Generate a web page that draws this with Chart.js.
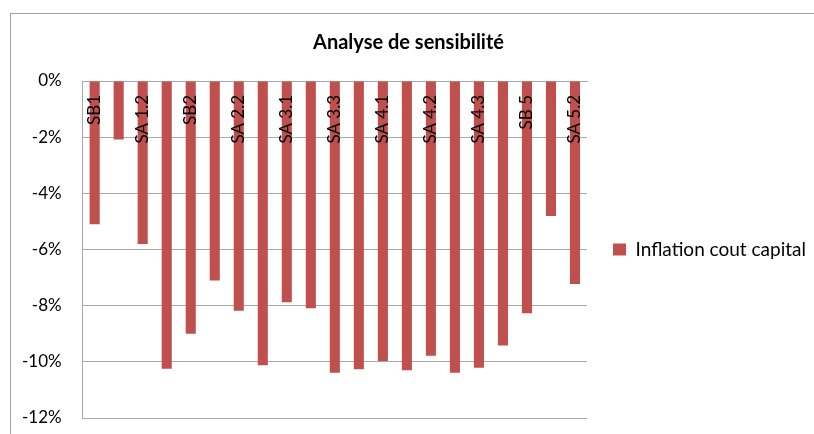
<!DOCTYPE html>
<html>
<head>
<meta charset="utf-8">
<script src="https://cdn.jsdelivr.net/npm/chart.js@4/dist/chart.umd.min.js"></script>
<style>
  html, body { margin: 0; padding: 0; background: #ffffff; }
  #wrap { width: 814px; height: 434px; }
</style>
</head>
<body>
<div id="wrap"><canvas id="c" width="814" height="434"></canvas></div>
<script>
// Scenario names (every other one is shown on the axis)
const categories = [
  'SB1', 'SA 1.1', 'SA 1.2', 'SA 1.3', 'SB2', 'SA 2.1', 'SA 2.2', 'SB3',
  'SA 3.1', 'SA 3.2', 'SA 3.3', 'SB4', 'SA 4.1', 'SA 4.1b', 'SA 4.2',
  'SA 4.2b', 'SA 4.3', 'SA 4.4', 'SB 5', 'SA 5.1', 'SA 5.2'
];

// Change (in %) for the capital cost inflation scenario
const inflationCoutCapital = [
  -5.1, -2.08, -5.8, -10.25, -9.0, -7.1, -8.18, -10.12,
  -7.88, -8.09, -10.39, -10.26, -9.97, -10.3, -9.78,
  -10.39, -10.21, -9.42, -8.27, -4.81, -7.23
];

const yTicks = [0, -2, -4, -6, -8, -10, -12];

const FONT = 'Lato, "Open Sans", "DejaVu Sans", sans-serif';
const GRID = '#a8a8a8';

// White background and thin grey frame around the chart
const framePlugin = {
  id: 'frame',
  beforeDraw(chart) {
    const ctx = chart.ctx;
    ctx.save();
    ctx.fillStyle = '#ffffff';
    ctx.fillRect(0, 0, chart.width, chart.height);
    ctx.strokeStyle = '#a0a0a0';
    ctx.lineWidth = 1;
    ctx.strokeRect(10.5, 13.5, chart.width + 20, chart.height + 20);
    ctx.restore();
  }
};

new Chart(document.getElementById('c'), {
  type: 'bar',
  data: {
    labels: categories,
    datasets: [{
      label: 'Inflation cout capital',
      data: inflationCoutCapital,
      backgroundColor: '#C0504D',
      borderWidth: 0,
      barPercentage: 0.42,
      categoryPercentage: 1.0
    }]
  },
  options: {
    responsive: false,
    animation: false,
    layout: { padding: { left: 1, right: -2, top: 13, bottom: 16 } },
    plugins: {
      title: {
        display: true,
        text: 'Analyse de sensibilité',
        color: '#000000',
        font: { family: FONT, size: 20, weight: 'bold' },
        padding: { top: 18, bottom: 26 }
      },
      legend: {
        position: 'right',
        fullSize: false,
        maxWidth: 260,
        labels: {
          color: '#000000',
          font: { family: FONT, size: 19 },
          boxWidth: 13,
          boxHeight: 12,
          padding: 26
        }
      },
      tooltip: { enabled: false }
    },
    scales: {
      x: {
        // category labels hang just below the zero line, over the bars
        position: { y: 0 },
        grid: { display: false, drawTicks: false },
        border: { display: true, color: GRID },
        afterFit: (scale) => {
          scale.paddingLeft = 0;
          scale.paddingRight = 0;
        },
        ticks: {
          z: 1,
          autoSkip: false,
          maxRotation: 90,
          minRotation: 90,
          padding: 14,
          color: '#000000',
          font: { family: FONT, size: 17 },
          callback: function (value, index) {
            return index % 2 === 0 ? this.getLabelForValue(value) : '';
          }
        }
      },
      y: {
        min: Math.min(...yTicks),
        max: Math.max(...yTicks),
        afterBuildTicks: (scale) => {
          scale.ticks = yTicks.map(v => ({ value: v }));
        },
        afterFit: (scale) => {
          scale.paddingTop = 10;
          scale.paddingBottom = 10;
        },
        grid: { color: GRID, drawTicks: false },
        border: { display: true, color: GRID },
        ticks: {
          padding: 21,
          color: '#000000',
          font: { family: FONT, size: 17 },
          callback: (v) => v + '%'
        }
      }
    }
  },
  plugins: [framePlugin]
});
</script>
</body>
</html>
